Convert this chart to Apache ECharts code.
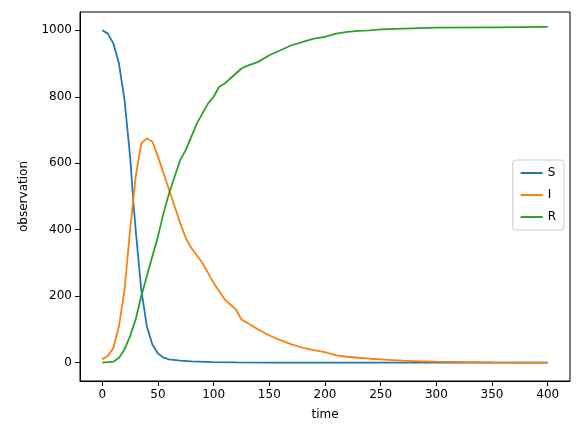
<!DOCTYPE html>
<html>
<head>
<meta charset="utf-8">
<script src="https://cdn.jsdelivr.net/npm/echarts@6/dist/echarts.min.js"></script>
<style>body{margin:0}#main{width:580px;height:432px}</style>
</head>
<body>
<div id="main"></div>
<script>
var sTime = [0,5,10,15,20,25,28,30,35,40,45,50,55,60,70,80,100,120,150,200,250,300,350,400];
var sVals = [1000,990,960,900,790,620,480,400,220,110,55,28,15,10,6,4,2,1,0,0,0,0,0,0];
var iTime = [0,5,10,15,20,25,30,35,40,45,50,55,60,65,70,75,80,90,100,110,120,125,130,140,150,160,170,180,190,200,210,220,230,240,250,260,270,280,300,350,400];
var iVals = [10,20,45,110,220,400,560,660,675,665,620,570,520,470,420,375,345,300,240,190,160,130,120,100,82,68,55,45,38,32,22,18,15,12,10,8,6,5,3,1,0];
var rTime = [0,10,15,20,25,30,35,40,45,50,55,60,65,70,75,80,85,90,95,100,105,110,115,120,125,130,140,150,160,170,180,190,200,210,220,230,240,250,270,300,350,400];
var rVals = [0,3,15,40,80,130,200,260,320,380,450,510,560,610,640,680,720,750,780,800,830,840,855,870,885,893,905,925,940,955,965,975,980,990,995,998,1000,1003,1005,1008,1009,1010];
var xTicks = [0,50,100,150,200,250,300,350,400];
var yTicks = [0,200,400,600,800,1000];

function pairs(t, v) { return t.map(function (x, i) { return [x, v[i]]; }); }

var myChart = echarts.init(document.getElementById('main'));
var font = 'DejaVu Sans';
function line(name, color, t, v) {
    return { name: name, type: 'line', data: pairs(t, v), showSymbol: false, symbol: 'none',
             lineStyle: { color: color, width: 1.8 }, itemStyle: { color: color } };
}
myChart.setOption({
    animation: false,
    textStyle: { fontFamily: font },
    grid: { left: 80, right: 10, top: 12, bottom: 51, show: true, borderColor: '#000', borderWidth: 1 },
    legend: {
        orient: 'vertical', right: 16, top: 160, itemWidth: 22, itemHeight: 2, itemGap: 10,
        icon: 'rect', backgroundColor: '#fff', borderColor: '#ccc', borderWidth: 1, borderRadius: 3,
        padding: [7, 8], textStyle: { fontSize: 12, color: '#000' },
        data: ['S', 'I', 'R']
    },
    xAxis: {
        type: 'value', min: -20, max: 420, name: 'time', nameLocation: 'middle', nameGap: 28,
        nameTextStyle: { fontSize: 12, color: '#000' },
        splitLine: { show: false },
        axisLine: { show: true, onZero: false, lineStyle: { color: '#000' } },
        axisTick: { show: true, customValues: xTicks, lineStyle: { color: '#000' } },
        axisLabel: { customValues: xTicks, color: '#000', fontSize: 12, formatter: function (v) { return String(v); } }
    },
    yAxis: {
        type: 'value', min: -55, max: 1055, name: 'observation', nameLocation: 'middle', nameGap: 50,
        nameTextStyle: { fontSize: 12, color: '#000' },
        splitLine: { show: false },
        axisLine: { show: true, onZero: false, lineStyle: { color: '#000' } },
        axisTick: { show: true, customValues: yTicks, lineStyle: { color: '#000' } },
        axisLabel: { customValues: yTicks, color: '#000', fontSize: 12, formatter: function (v) { return String(v); } }
    },
    series: [
        line('S', '#1f77b4', sTime, sVals),
        line('I', '#ff7f0e', iTime, iVals),
        line('R', '#2ca02c', rTime, rVals)
    ]
});
</script>
</body>
</html>
